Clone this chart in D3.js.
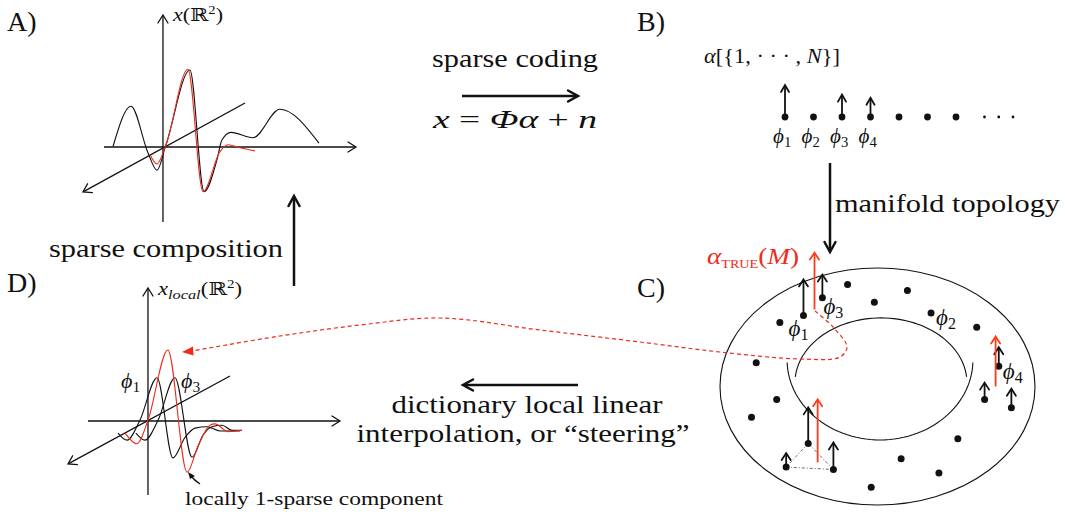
<!DOCTYPE html>
<html>
<head>
<meta charset="utf-8">
<script src="https://cdn.jsdelivr.net/npm/d3@7"></script>
<style>
  body { margin: 0; background: #fff; }
  text { font-family: "Liberation Serif", "Times New Roman", "DejaVu Serif", serif; }
</style>
</head>
<body>
<script>
// ---- data ----
// panel A waves: [t, amplitude], t runs 0..10 along the horizontal axis
var waveSignal = [[0.36,0.01],[1.07,0.53],[1.75,-0.08],[2.10,-0.30],[2.46,0.03],[3.41,1.00],
                  [3.97,-0.58],[4.48,-0.17],[4.68,0.09],[5.04,0.19],[5.91,0.12],[6.98,0.49],[8.53,0.05]];
var waveAtom = [[1.83,-0.10],[2.10,-0.22],[2.46,0.03],[3.33,1.01],[3.93,-0.58],[4.60,-0.06],
                [4.92,0.03],[5.40,-0.01],[5.99,-0.05]];
// panel D waves
var atomPhi1 = [[1.19,-0.17],[1.55,-0.27],[2.06,0.01],[2.74,0.61],[3.37,-0.52],[3.85,-0.23],
                [4.25,-0.10],[4.72,-0.08],[5.24,-0.14],[6.03,-0.14]];
var atomPhi3 = [[1.90,-0.17],[2.26,-0.27],[2.78,0.01],[3.45,0.61],[4.13,-0.51],[4.56,-0.20],
                [4.92,-0.08],[5.32,-0.06],[5.71,-0.13],[6.11,-0.13]];
var atomSteer = [[1.47,-0.17],[1.94,-0.32],[2.38,0.01],[3.17,1.00],[3.93,-0.72],[4.37,-0.35],
                 [4.84,-0.06],[5.04,-0.04],[5.56,-0.15],[6.11,-0.13]];
// panel B: coefficient chain
var chainIndex = [1, 2, 3, 4, 5, 6, 7];
var chainCoef  = [1.0, 0, 0.7, 0.6, 0, 0, 0];
var chainMore  = [8, 8.5, 9];
var chainLabels = ["1", "2", "3", "4"];
// panel C: dictionary atoms on the torus, [u, v] in -1..1 of the outer ellipse
var manifoldDots = [[-0.47,-0.60],[-0.35,-0.75],[-0.19,-0.86],[0.19,-0.81],[-0.02,-0.71],[0.34,-0.62],
                    [0.63,-0.50],[-0.62,-0.54],[-0.77,-0.20],[0.77,-0.17],[0.68,0.11],[0.85,0.18],
                    [-0.64,0.11],[-0.80,0.26],[-0.44,0.48],[-0.58,0.68],[-0.28,0.70],[0.51,0.44],
                    [0.15,0.61],[0.39,0.73],[-0.04,0.85]];
// [dot index, coefficient]
var manifoldCoef = [[0,1.0],[1,0.64],[9,0.53],[10,0.47],[11,0.53],[14,1.0],[15,0.39],[16,0.75]];
// red alpha_TRUE arrows: [u, v, length]
var trueArrows = [[-0.40,-0.65,1.58],[0.75,0.00,1.39],[-0.38,0.64,1.75]];
// [dot index, subscript]
var manifoldLabels = [[0,"1"],[1,"3"],[5,"2"],[9,"4"]];
var triangleDots = [14, 15, 16];

var red = "#ee2a1b";
var ink = "#111";

var svg = d3.select("body").append("svg")
    .attr("width", 1065)
    .attr("height", 514);

function arrow(x1, y1, x2, y2, o) {
    o = o || {};
    var col = o.color || ink, sw = o.sw || 1.5, L = o.head || 8, W = o.half || 4.5;
    var dx = x2 - x1, dy = y2 - y1, len = Math.hypot(dx, dy), ux = dx / len, uy = dy / len;
    var bx = x2 - ux * L, by = y2 - uy * L;
    svg.append("line")
        .attr("x1", x1).attr("y1", y1)
        .attr("x2", x2 - ux * sw * 0.5).attr("y2", y2 - uy * sw * 0.5)
        .attr("stroke", col).attr("stroke-width", sw);
    svg.append("path")
        .attr("d", "M" + (bx - uy * W) + "," + (by + ux * W) + "L" + x2 + "," + y2 +
                   "L" + (bx + uy * W) + "," + (by - ux * W))
        .attr("fill", "none").attr("stroke", col).attr("stroke-width", sw)
        .attr("stroke-linecap", "round");
}

function txt(x, y, size, parts, o) {
    o = o || {};
    var t = svg.append("text").attr("x", x).attr("y", y)
        .attr("font-size", size).attr("fill", o.fill || ink);
    if (o.anchor) t.attr("text-anchor", o.anchor);
    if (o.len) t.attr("textLength", o.len).attr("lengthAdjust", "spacingAndGlyphs");
    parts.forEach(function(p) {
        if (typeof p === "string") p = {t: p};
        var s = t.append("tspan").text(p.t);
        if (p.i) s.attr("font-style", "italic");
        if (p.s) s.attr("font-size", p.s);
        if (p.dy) s.attr("dy", p.dy);
    });
    return t;
}

function phi(x, y, sub, size) {
    size = size || 21;
    txt(x, y, size, [{t: "\u03D5", i: 1}, {t: sub, s: size * 0.7, dy: 4}]);
}

// ---- panel labels ----
txt(7, 31, 28, ["A)"]);
txt(637, 31, 28, ["B)"]);
txt(637, 297, 28, ["C)"]);
txt(7, 292, 28, ["D)"]);

// ---- panel A ----
var xA = d3.scaleLinear().domain([0, 10]).range([104, 356]);
var yA = d3.scaleLinear().domain([-1, 1]).range([224, 70]);
var oA = [xA(2.34), yA(0)];
arrow(oA[0], 222, oA[0], 15, {sw: 1.3, head: 8, half: 5});
arrow(xA(0), oA[1], xA(10), oA[1], {sw: 1.3, head: 8, half: 5});
arrow(245, 103, 83, 192, {sw: 1.3, head: 8, half: 5});
var lineA = d3.line().x(function(d) { return xA(d[0]); }).y(function(d) { return yA(d[1]); })
    .curve(d3.curveMonotoneX);
svg.append("path").attr("d", lineA(waveSignal)).attr("fill", "none")
    .attr("stroke", ink).attr("stroke-width", 1.1);
svg.append("path").attr("d", lineA(waveAtom)).attr("fill", "none")
    .attr("stroke", red).attr("stroke-width", 1.1);
txt(173, 21, 18, [{t: "x", i: 1}, "(\u211D", {t: "2", s: 12, dy: -7}, {t: ")", dy: 7}], {len: 50});

// ---- panel D ----
var xD = d3.scaleLinear().domain([0, 10]).range([88, 340]);
var yD = d3.scaleLinear().domain([-1, 1]).range([492, 350]);
var oD = [xD(2.38), yD(0)];
arrow(oD[0], 495, oD[0], 288, {sw: 1.3, head: 8, half: 5});
arrow(xD(0), oD[1], xD(10), oD[1], {sw: 1.3, head: 8, half: 5});
arrow(230, 376, 68, 464, {sw: 1.3, head: 8, half: 5});
var lineD = d3.line().x(function(d) { return xD(d[0]); }).y(function(d) { return yD(d[1]); })
    .curve(d3.curveMonotoneX);
[atomPhi1, atomPhi3].forEach(function(w) {
    svg.append("path").attr("d", lineD(w)).attr("fill", "none")
        .attr("stroke", ink).attr("stroke-width", 1.1);
});
svg.append("path").attr("d", lineD(atomSteer)).attr("fill", "none")
    .attr("stroke", red).attr("stroke-width", 1.1);
txt(158, 295, 18, [{t: "x", i: 1}, {t: "local", i: 1, s: 13, dy: 4}, {t: "(\u211D", dy: -4},
                   {t: "2", s: 12, dy: -7}, {t: ")", dy: 7}], {len: 84});
phi(121, 388, "1", 22);
phi(181, 388, "3", 22);
svg.append("path").attr("d", "M200,484 Q194,480 191,476")
    .attr("fill", "none").attr("stroke", ink).attr("stroke-width", 1.3);
svg.append("path").attr("d", "M188,472 L195,476 L190,479 Z").attr("fill", ink);
txt(185, 505, 19, ["locally 1-sparse component"], {len: 258});

// ---- middle texts and arrows ----
txt(515, 67, 26, ["sparse coding"], {anchor: "middle", len: 166});
arrow(462, 96, 578, 96, {sw: 2.5, head: 10, half: 5.5});
txt(433, 128, 25, [{t: "x", i: 1}, " = ", {t: "\u03A6\u03B1", i: 1}, " + ", {t: "n", i: 1}],
    {len: 164});
txt(166, 257, 26, ["sparse composition"], {anchor: "middle", len: 234});
arrow(294, 286, 294, 196, {sw: 2.5, head: 10, half: 5.5});
arrow(830, 163, 830, 252, {sw: 2.5, head: 10, half: 5.5});
txt(835, 212, 26, ["manifold topology"], {len: 225});
arrow(578, 385, 463, 385, {sw: 2.5, head: 10, half: 5.5});
txt(527, 413, 26, ["dictionary local linear"], {anchor: "middle", len: 271});
txt(523, 442, 26, ["interpolation, or \u201Csteering\u201D"], {anchor: "middle", len: 333});

// ---- panel B ----
var xB = d3.scaleLinear().domain([1, 7]).range([785, 956]);
var hB = d3.scaleLinear().domain([0, 1]).range([0, 32]);
var yB = 117;
svg.selectAll("circle.chain").data(chainIndex).enter().append("circle")
    .attr("class", "chain")
    .attr("cx", function(d) { return xB(d); }).attr("cy", yB).attr("r", 3.4).attr("fill", ink);
svg.selectAll("circle.more").data(chainMore).enter().append("circle")
    .attr("class", "more")
    .attr("cx", function(d) { return xB(d); }).attr("cy", yB).attr("r", 1.4).attr("fill", ink);
chainCoef.forEach(function(c, i) {
    if (c > 0) arrow(xB(chainIndex[i]), yB, xB(chainIndex[i]), yB - hB(c), {sw: 1.8, head: 7, half: 4});
});
chainLabels.forEach(function(s, i) { phi(xB(i + 1) - 12, 143, s, 21); });
txt(704, 63, 21, [{t: "\u03B1", i: 1}, "[{1, \u00B7 \u00B7 \u00B7 , ", {t: "N", i: 1}, "}]"], {len: 136});

// ---- panel C: torus ----
var xT = d3.scaleLinear().domain([-1, 1]).range([720, 1035]);
var yT = d3.scaleLinear().domain([-1, 1]).range([268, 505]);
var hT = d3.scaleLinear().domain([0, 1]).range([0, 36]);
svg.append("ellipse")
    .attr("cx", xT(0)).attr("cy", yT(0))
    .attr("rx", (xT(1) - xT(-1)) / 2).attr("ry", (yT(1) - yT(-1)) / 2)
    .attr("fill", "none").attr("stroke", ink).attr("stroke-width", 1.1);
function arc(cu, cv, ru, rv, a0, a1) {
    var pts = d3.range(0, 61).map(function(k) {
        var a = a0 + (a1 - a0) * k / 60;
        return [xT(cu + ru * Math.cos(a)), yT(cv + rv * Math.sin(a))];
    });
    svg.append("path").attr("d", d3.line()(pts)).attr("fill", "none")
        .attr("stroke", ink).attr("stroke-width", 1.1);
}
arc(0.022, -0.03, 0.546, 0.549, Math.PI * 1.03, Math.PI * 1.97);
arc(0.016, -0.224, 0.59, 0.675, Math.PI * 0.01, Math.PI * 0.99);

// steering connector
var steerPath = [[815,311],[833,327],[847,347],[840,357],[800,359],[720,352],[640,342],
                 [540,330],[440,318],[360,325],[280,336],[192,351]];
svg.append("path").attr("d", d3.line().curve(d3.curveCatmullRom)(steerPath))
    .attr("fill", "none").attr("stroke", red).attr("stroke-width", 1.2)
    .attr("stroke-dasharray", "4,3");
svg.append("path").attr("d", "M182,352 L193,346.5 L193.5,355.5 Z").attr("fill", red);

// triangle of neighbours
svg.append("path")
    .attr("d", d3.line()(triangleDots.concat([triangleDots[0]]).map(function(i) {
        return [xT(manifoldDots[i][0]), yT(manifoldDots[i][1])];
    })))
    .attr("fill", "none").attr("stroke", "#444").attr("stroke-width", 0.8)
    .attr("stroke-dasharray", "3,2,1,2");

svg.selectAll("circle.atom").data(manifoldDots).enter().append("circle")
    .attr("class", "atom")
    .attr("cx", function(d) { return xT(d[0]); }).attr("cy", function(d) { return yT(d[1]); })
    .attr("r", 3.5).attr("fill", ink);
manifoldCoef.forEach(function(c) {
    var d = manifoldDots[c[0]];
    arrow(xT(d[0]), yT(d[1]), xT(d[0]), yT(d[1]) - hT(c[1]), {sw: 1.8, head: 7, half: 4.5});
});
trueArrows.forEach(function(a) {
    arrow(xT(a[0]), yT(a[1]), xT(a[0]), yT(a[1]) - hT(a[2]),
          {sw: 1.8, head: 7, half: 4.5, color: "#ff3a1c"});
});
var labelOffset = {"1": [-15, 21], "3": [1, 16], "2": [5, 12], "4": [4, 13]};
manifoldLabels.forEach(function(l) {
    var d = manifoldDots[l[0]], off = labelOffset[l[1]];
    phi(xT(d[0]) + off[0], yT(d[1]) + off[1], l[1], 23);
});
txt(707, 264, 23, [{t: "\u03B1", i: 1}, {t: "TRUE", s: 12, dy: 4}, {t: "(", dy: -4},
                   {t: "M", i: 1}, ")"], {fill: red, len: 92});
</script>
</body>
</html>
